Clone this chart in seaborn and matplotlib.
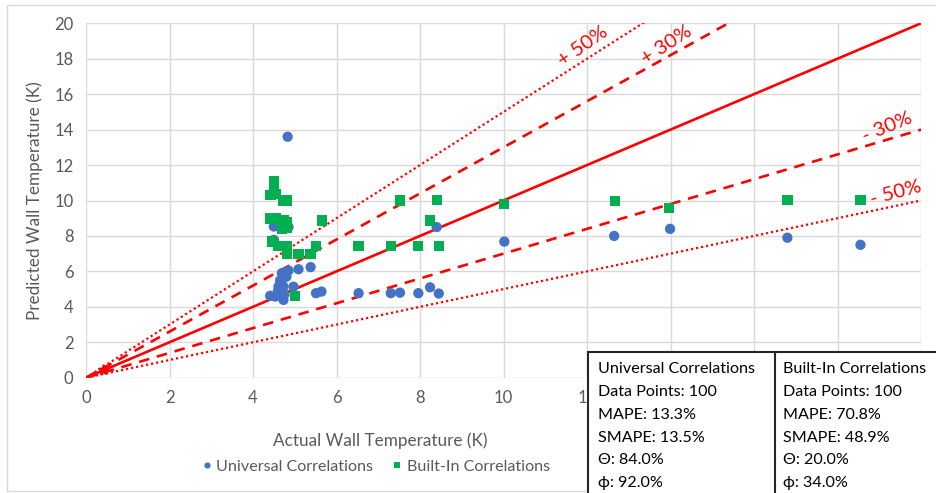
import numpy as np
import pandas as pd
import matplotlib
matplotlib.use("Agg")
import matplotlib.pyplot as plt
import seaborn as sns
from matplotlib.patches import Rectangle

# ---------------- data ----------------
univ_x = [4.83, 4.50, 4.85, 4.50, 5.09, 5.38, 4.69, 4.85, 4.65, 4.80, 4.61, 4.73, 4.97,
          4.41, 4.53, 4.73, 5.00, 5.51, 5.64, 6.53, 7.30, 7.52, 7.96, 8.24, 8.45, 8.40,
          10.02, 12.65, 13.99, 16.80, 18.55, 4.60, 4.75, 4.68]
univ_y = [13.6, 8.53, 8.50, 7.78, 6.12, 6.24, 5.90, 6.05, 5.50, 5.70, 5.14, 5.14, 5.14,
          4.62, 4.58, 4.39, 4.62, 4.77, 4.86, 4.77, 4.77, 4.80, 4.77, 5.10, 4.75, 8.50,
          7.68, 8.00, 8.40, 7.90, 7.50, 4.90, 4.70, 5.30]

built_x = [4.50, 4.50, 4.42, 4.55, 4.73, 4.80, 4.42, 4.55, 4.73, 4.80, 4.70, 4.80,
           4.45, 4.61, 4.82, 4.82, 5.09, 5.38, 5.51, 5.65, 5.00, 6.53, 7.30, 7.52,
           7.96, 8.24, 8.40, 8.45, 10.02, 12.67, 13.97, 16.80, 18.55]
built_y = [11.1, 10.85, 10.3, 10.35, 10.0, 10.0, 8.98, 8.98, 8.87, 8.80, 8.38, 8.45,
           7.68, 7.44, 7.44, 6.99, 6.99, 6.99, 7.44, 8.87, 4.60, 7.44, 7.44, 10.0,
           7.44, 8.87, 10.04, 7.44, 9.80, 9.98, 9.59, 10.03, 10.03]

series_names = ["Universal Correlations", "Built-In Correlations"]
series_colors = ["#4472C4", "#00B050"]

band_factors = [1.5, 1.3, 1.0, 0.7, 0.5]
band_styles = [":", "--", "-", "--", ":"]
band_labels = ["+ 50%", "+ 30%", None, "- 30%", "- 50%"]
band_label_pos = [(11.9, 18.7), (13.9, 18.8), None, (19.2, 14.15), (19.4, 10.45)]
band_label_rot = [35, 33, None, 22, 15]

stats_universal = ["Universal Correlations", "Data Points: 100", "MAPE: 13.3%",
                   "SMAPE: 13.5%", "\u0398: 84.0%", "\u03d5: 92.0%"]
stats_builtin = ["Built-In Correlations", "Data Points: 100", "MAPE: 70.8%",
                 "SMAPE: 48.9%", "\u0398: 20.0%", "\u03d5: 34.0%"]

x_ticks = list(range(0, 21, 2))
# labels from 14 upward sit fully behind the statistics box in the reference
x_tick_labels = ["0", "2", "4", "6", "8", "10", "12", "", "", "", ""]
y_ticks = list(range(0, 21, 2))

df = pd.DataFrame({
    "actual": univ_x + built_x,
    "predicted": univ_y + built_y,
    "series": [series_names[0]] * len(univ_x) + [series_names[1]] * len(built_x),
})

# ---------------- plot ----------------
sns.set_theme(style="white")
plt.rcParams["font.family"] = ["Lato", "DejaVu Sans"]
W, H = 936, 493
fig = plt.figure(figsize=(W / 100, H / 100), dpi=100)
ax = fig.add_axes([86 / W, 1 - 377.7 / H, (921 - 86) / W, (377.7 - 23.3) / H])

grey = "#595959"
xs = np.array([0, 20.0])
for f, ls in zip(band_factors, band_styles):
    kw = dict(color="#FF0000", linewidth=1.9, zorder=2)
    if ls == "--":
        kw["dashes"] = (4, 3)
    elif ls == ":":
        kw["dashes"] = (1, 1.3)
        kw["linewidth"] = 1.6
    else:
        kw["linestyle"] = "-"
    ax.plot(xs, xs * f, **kw)
ax.plot([0.4], [0.45], marker="*", color="#FF0000", markersize=8, linestyle="none", zorder=2)

for lab, pos, rot in zip(band_labels, band_label_pos, band_label_rot):
    if lab:
        ax.text(pos[0], pos[1], lab, color="#FF0000", fontsize=14.5, rotation=rot,
                ha="center", va="center", rotation_mode="anchor", zorder=3)

sns.scatterplot(data=df, x="actual", y="predicted", hue="series", style="series",
                hue_order=series_names, style_order=series_names,
                palette=series_colors, markers=["o", "s"], s=55, linewidth=0,
                ax=ax, zorder=4, legend=True)

ax.set_xlim(0, 20)
ax.set_ylim(0, 20)
ax.set_xticks(x_ticks)
ax.set_xticklabels(x_tick_labels)
ax.set_yticks(y_ticks)
ax.grid(True, color="#D9D9D9", linewidth=1)
ax.set_axisbelow(True)
for s in ax.spines.values():
    s.set_visible(False)
ax.tick_params(axis="both", length=0, labelsize=12, labelcolor=grey, pad=9)
ax.set_xlabel("")
ax.set_ylabel("")

fig.text(35 / W, 1 - 201 / H, "Predicted Wall Temperature (K)", rotation=90,
         ha="center", va="center", fontsize=12.3, color=grey)
fig.text(380 / W, 1 - 441 / H, "Actual Wall Temperature (K)",
         ha="center", va="center", fontsize=12.3, color=grey)

handles, labels = ax.get_legend_handles_labels()
ax.legend(handles, labels, loc="center", bbox_to_anchor=(372 / W, 1 - 467 / H),
          bbox_transform=fig.transFigure, ncol=2, frameon=False, markerscale=0.6,
          handletextpad=-0.2, handlelength=1.6, columnspacing=0.7, fontsize=11.6,
          labelcolor=grey)

# chart outer border
fig.patches.append(Rectangle((7 / W, 2 / H), 1.0, 1 - 7 / H, transform=fig.transFigure,
                             fill=False, edgecolor="#D9D9D9", linewidth=1, zorder=0))

# stats table
tbl_left, tbl_top, tbl_div = 588, 352, 775
fig.patches.append(Rectangle((tbl_left / W, -0.01), 1.0, 1 - tbl_top / H + 0.01,
                             transform=fig.transFigure, facecolor="white",
                             edgecolor="#262626", linewidth=1.5, zorder=10))
fig.add_artist(plt.Line2D([tbl_div / W, tbl_div / W], [0, 1 - tbl_top / H],
                          transform=fig.transFigure, color="#262626", linewidth=1.5, zorder=11))
row_y = [369, 392, 415, 438, 460.5, 483]
for i, yv in enumerate(row_y):
    fig.text(598 / W, 1 - yv / H, stats_universal[i], ha="left", va="center",
             fontsize=11.6, color="black", zorder=12)
    fig.text(783 / W, 1 - yv / H, stats_builtin[i], ha="left", va="center",
             fontsize=11.6, color="black", zorder=12)

fig.savefig("out.png", dpi=100)
